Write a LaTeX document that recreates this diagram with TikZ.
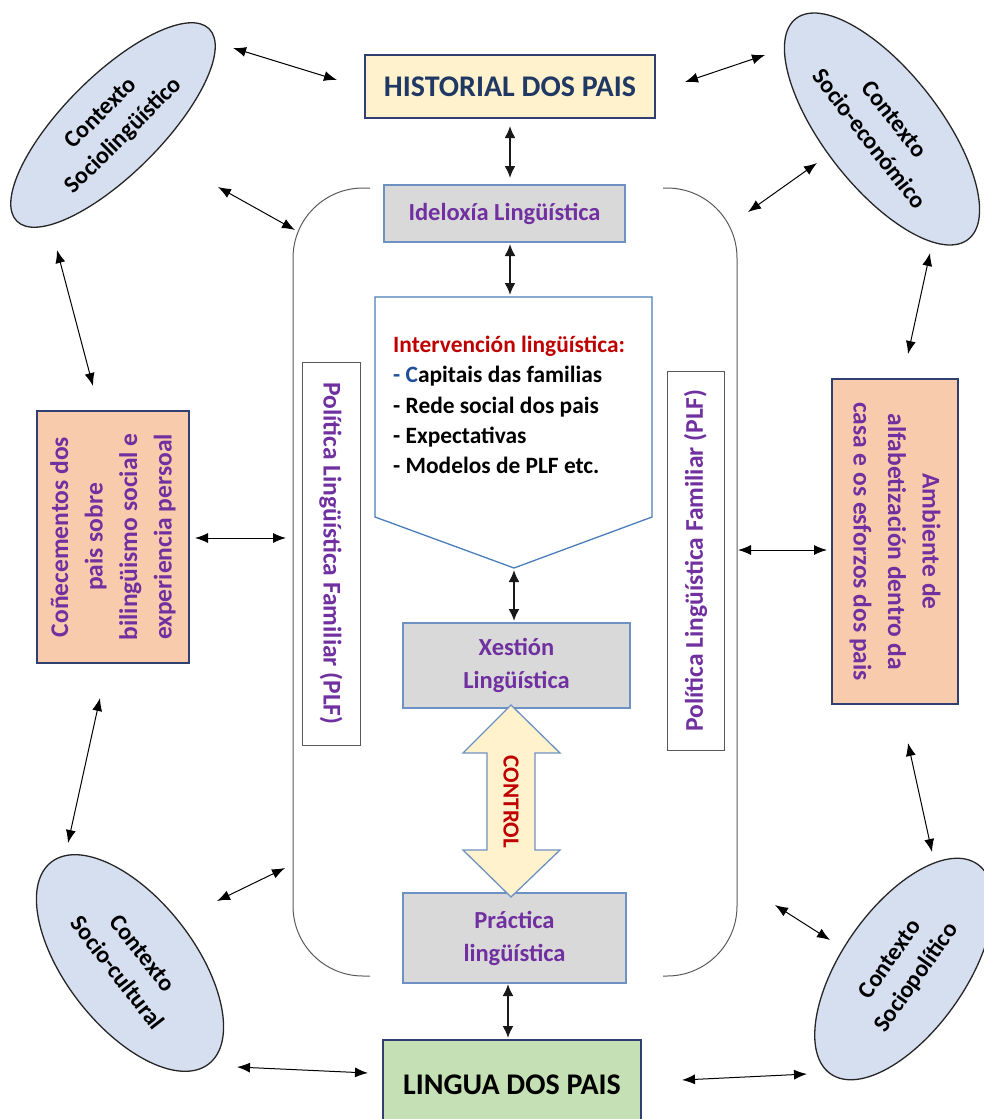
\documentclass[tikz,border=0pt]{standalone}
\usepackage{fontspec}
\setmainfont{Carlito}
\usetikzlibrary{arrows.meta,shapes.geometric}
\definecolor{ellfill}{RGB}{214,223,240}
\definecolor{hyellow}{RGB}{255,242,204}
\definecolor{navytxt}{RGB}{31,56,100}
\definecolor{boxgray}{RGB}{217,217,217}
\definecolor{boxblue}{RGB}{110,145,195}
\definecolor{purp}{RGB}{112,48,160}
\definecolor{dred}{RGB}{192,0,0}
\definecolor{peach}{RGB}{248,203,173}
\definecolor{lgreen}{RGB}{197,224,180}
\definecolor{bordnavy}{RGB}{47,64,112}
\definecolor{cblue}{RGB}{31,78,154}
\definecolor{pentblue}{RGB}{74,126,187}
\begin{document}
\begin{tikzpicture}[x=1pt,y=-1pt,
  ell/.style={ellipse,draw=black!85,line width=1.3pt,fill=ellfill,inner sep=0pt,align=center,
    font=\bfseries\fontsize{24}{32}\selectfont},
  graybox/.style={draw=boxblue,line width=1.3pt,fill=boxgray,inner sep=0pt,align=center,text=purp,
    font=\bfseries\fontsize{24.5}{33}\selectfont},
  peachbox/.style={draw=bordnavy,line width=1.3pt,fill=peach,inner sep=0pt,align=center,text=purp,
    font=\bfseries\fontsize{25.5}{34.5}\selectfont},
  plfbox/.style={draw=black!65,line width=1pt,fill=white,inner sep=0pt,text=purp,
    font=\bfseries\fontsize{25.5}{30}\selectfont},
  cont/.style={draw=black!65,line width=1pt,rounded corners=70pt},
  dbl/.style={{Latex[length=13pt,width=10pt]}-{Latex[length=13pt,width=10pt]},line width=1pt,black},
  vdbl/.style={{Latex[length=12pt,width=11pt]}-{Latex[length=12pt,width=11pt]},line width=2pt,black!90},
  pline/.style={anchor=base west,inner sep=0pt,font=\bfseries\fontsize{23.4}{30}\selectfont},
]
\useasboundingbox (0,0) rectangle (984,1119);

% container brackets
\draw[cont] (370,188) -- (293,188) -- (293,976) -- (370,976);
\draw[cont] (663,188) -- (737,188) -- (737,976) -- (663,976);

% ellipses
\node[ell,minimum width=272,minimum height=98,rotate=45] (e1) at (113,125) {Contexto\\Sociolingüístico};
\node[ell,minimum width=280,minimum height=116,rotate=-52] (e2) at (882,129) {Contexto\\Socio-económico};
\node[ell,minimum width=256,minimum height=128,rotate=-52] (e3) at (130,963) {Contexto\\Socio-cultural};
\node[ell,minimum width=256,minimum height=124,rotate=55] (e4) at (904,969) {Contexto\\Sociopolítico};

% top and bottom boxes
\node[draw=bordnavy,line width=1.3pt,fill=hyellow,minimum width=290,minimum height=63,inner sep=0pt,
  text=navytxt,font=\bfseries\fontsize{30}{34}\selectfont] (hist) at (510,86.5) {HISTORIAL DOS PAIS};
\node[draw=bordnavy,line width=1.3pt,fill=lgreen,minimum width=258,minimum height=90,inner sep=0pt,
  text=black,font=\bfseries\fontsize{30}{34}\selectfont] (ling) at (512,1085) {LINGUA DOS PAIS};

% gray boxes
\node[graybox,minimum width=241,minimum height=57] (ide) at (504.5,213.5) {Ideloxía Lingüística};
\node[graybox,minimum width=227,minimum height=85] (xes) at (516.5,665.5) {Xestión\\Lingüística};
\node[graybox,minimum width=223,minimum height=90] (pra) at (514.5,938) {Práctica\\lingüística};

% pentagon
\draw[draw=pentblue,line width=1.3pt,fill=white] (375,297) coordinate (ptl) -- (652,297) -- (652,517)
  -- (514,568) coordinate (ptip) -- (375,517) -- cycle;
\coordinate (ptop) at (510,297);
\node[pline,text=dred] (l1) at (393,352) {Intervención lingüística:};
\node[pline] (l2) at (393,382) {\textcolor{cblue}{- C}apitais das familias};
\node[pline] (l3) at (393,413) {- Rede social dos pais};
\node[pline] (l4) at (393,443) {- Expectativas};
\node[pline] (l5) at (393,473) {- Modelos de PLF etc.};

% PLF boxes
\node[plfbox,minimum width=383,minimum height=58,rotate=-90] (plfl) at (331,553.5) {Política Lingüística Familiar (PLF)};
\node[plfbox,minimum width=379,minimum height=57,rotate=90] (plfr) at (695.5,560.5) {Política Lingüística Familiar (PLF)};

% peach boxes
\node[peachbox,minimum width=252,minimum height=152,rotate=90] (cone) at (113,537) {Coñecementos dos\\pais sobre\\bilingüismo social e\\experiencia persoal};
\node[peachbox,minimum width=325,minimum height=126,rotate=-90] (amb) at (895,541.5) {Ambiente de\\alfabetización dentro da\\casa e os esforzos dos pais};

% CONTROL arrow
\draw[draw=boxblue,line width=1.3pt,fill=hyellow] (511,705) coordinate (ctop) -- (560,753) -- (535,753) -- (535,850)
  -- (560,850) -- (511,897) coordinate (cbot) -- (463,850) -- (487,850) -- (487,753) -- (463,753) -- cycle;
\node[rotate=-90,text=dred,inner sep=0pt,font=\bfseries\fontsize{23}{27}\selectfont] (ctl) at (511,802) {CONTROL};

% vertical arrows
\draw[vdbl] (510,126) coordinate (v1a) -- (510,178) coordinate (v1b);
\draw[vdbl] (510,244) coordinate (v2a) -- (510,295) coordinate (v2b);
\draw[vdbl] (514,570) coordinate (v3a) -- (514,621) coordinate (v3b);
\draw[vdbl] (508,984) coordinate (v4a) -- (508,1038) coordinate (v4b);

% peripheral arrows
\draw[dbl] (233,48) coordinate (a1s) -- (337,80) coordinate (a1e);
\draw[dbl] (218,187) coordinate (a2s) -- (295,230) coordinate (a2e);
\draw[dbl] (57,250) coordinate (a3s) -- (93,386) coordinate (a3e);
\draw[dbl] (195,538) coordinate (a4s) -- (286,538) coordinate (a4e);
\draw[dbl] (100,698) coordinate (a5s) -- (68,843) coordinate (a5e);
\draw[dbl] (217,901) coordinate (a6s) -- (285,868) coordinate (a6e);
\draw[dbl] (237,1067) coordinate (a7s) -- (368,1073) coordinate (a7e);
\draw[dbl] (682,1080) coordinate (a8s) -- (807,1074) coordinate (a8e);
\draw[dbl] (775,905) coordinate (a9s) -- (830,940) coordinate (a9e);
\draw[dbl] (908,743) coordinate (a10s) -- (932,852) coordinate (a10e);
\draw[dbl] (738,550) coordinate (a11s) -- (827,550) coordinate (a11e);
\draw[dbl] (930,253) coordinate (a12s) -- (908,354) coordinate (a12e);
\draw[dbl] (748,212) coordinate (a13s) -- (817,163) coordinate (a13e);
\draw[dbl] (685,82) coordinate (a14s) -- (765,55) coordinate (a14e);
\end{tikzpicture}
\end{document}
